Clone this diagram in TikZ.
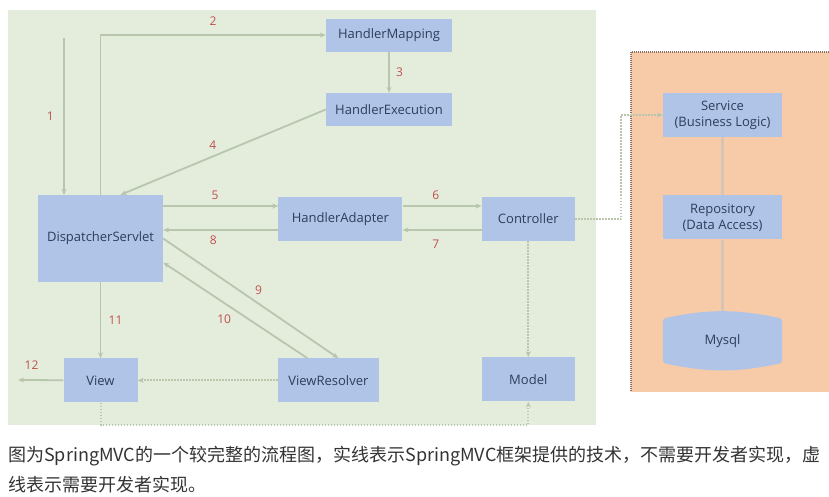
\documentclass[tikz,border=0pt]{standalone}
\usepackage{fontspec}
\setmainfont{Open Sans}
\newfontfamily\cjk{Noto Sans CJK SC}
\usepackage{tikz}
\usetikzlibrary{arrows.meta, positioning, backgrounds, calc}

\definecolor{bggreen}{RGB}{228,237,220}
\definecolor{bgorange}{RGB}{247,203,168}
\definecolor{boxblue}{RGB}{175,196,230}
\definecolor{boxtext}{RGB}{46,61,92}
\definecolor{linegray}{RGB}{184,198,174}
\definecolor{linktan}{RGB}{216,196,182}
\definecolor{borderbrown}{RGB}{140,110,100}
\definecolor{numred}{RGB}{192,80,77}
\definecolor{captiongray}{RGB}{51,51,51}

\begin{document}
\begin{tikzpicture}[
    x=1pt, y=-1pt,
    every node/.style={font=\fontsize{13}{16}\selectfont},
    box/.style={fill=boxblue, text=boxtext, minimum height=44pt, inner sep=0pt},
    num/.style={text=numred, font=\fontsize{12}{14}\selectfont},
    arrow/.style={-{Stealth[length=6pt, width=5pt]}, draw=linegray, line width=1.8pt},
    dottedarrow/.style={arrow, line width=2pt, dash pattern=on 1.5pt off 1.5pt},
    link/.style={draw=linktan, line width=3pt}
]
\useasboundingbox (0,0) rectangle (829,497);

% Nodes
\node[box, minimum width=125pt, minimum height=87pt] (dispatcher) at (100.5,238.5) {DispatcherServlet};
\node[box, minimum width=124pt, below right=2pt and 115pt of dispatcher.north east] (adapter) {HandlerAdapter};
\node[box, minimum width=93pt, right=79pt of adapter] (controller) {Controller};
\node[box, minimum width=93pt, below=116pt of controller] (model) {Model};
\node[box, minimum width=74pt, below=76pt of dispatcher] (view) {View};
\node[box, minimum width=101pt, right=140pt of view] (resolver) {ViewResolver};
\node[box, minimum width=126pt, minimum height=33pt] (execution) at (389,109.5) {HandlerExecution};
\node[box, minimum width=126pt, minimum height=33pt, above=41pt of execution] (mapping) {HandlerMapping};

\node[box, minimum width=119pt, align=center] (service) at (722.5,115) {Service\\(Business Logic)};
\node[box, minimum width=119pt, align=center, below=58pt of service] (repository) {Repository\\(Data Access)};
\node[minimum width=119pt, minimum height=60pt, inner sep=0pt, text=boxtext, below=71pt of repository] (mysql) {Mysql};

\coordinate (request) at (64,38);
\coordinate (response) at (18,380);

% Backgrounds
\begin{scope}[on background layer]
\fill[bggreen] (8,10) rectangle (596,425);
\fill[bgorange] (631,52) rectangle (829,392);
\draw[borderbrown, line width=1.2pt, dash pattern=on 1pt off 1pt] (829,52) -- (631,52) -- (631,392);
\fill[boxblue, rounded corners=3pt] ($(mysql.north west)+(0pt,-8pt)$) to[bend left=12] ($(mysql.north east)+(0pt,-8pt)$)
    -- ($(mysql.south east)+(0pt,8pt)$) to[bend left=12] ($(mysql.south west)+(0pt,8pt)$) -- cycle;
\end{scope}

% Arrows
\draw[arrow] (request) -- node[num, left=6pt] {1} (request |- dispatcher.north);
\draw[arrow] (dispatcher.north) |- node[num, pos=0.75, above=5pt] {2} (mapping.west);
\draw[arrow] (mapping) -- node[num, right=3pt] {3} (execution);
\draw[arrow] (execution.west) -- node[num, pos=0.55, above=3pt] {4} ([xshift=20pt]dispatcher.north);
\draw[arrow] ([yshift=13pt]dispatcher.east |- adapter.west) -- node[num, pos=0.45, above=2pt] {5} ([yshift=13pt]adapter.west);
\draw[arrow] ([yshift=-11pt]adapter.west) -- node[num, pos=0.565, below=2pt] {8} ([yshift=-11pt]dispatcher.east |- adapter.west);
\draw[arrow] ([yshift=13pt]adapter.east) -- node[num, pos=0.42, above=2pt] {6} ([yshift=13pt]controller.west);
\draw[arrow] ([yshift=-11pt]controller.west) -- node[num, pos=0.58, below=6pt] {7} ([yshift=-11pt]adapter.east);
\draw[arrow] (dispatcher.east) -- node[num, above right=0pt] {9} ([xshift=10pt]resolver.north);
\draw[arrow] ([xshift=-21pt]resolver.north) -- node[num, below left=0pt] {10} ([yshift=-24pt]dispatcher.east);
\draw[arrow] (dispatcher) -- node[num, right=4pt] {11} (view);
\draw[arrow] (view) -- node[num, pos=0.7, above=6pt] {12} (response);

\draw[dottedarrow] (resolver) -- (view);
\draw[dottedarrow] (controller) -- (model);
\draw[dottedarrow] (view.south) -- ++(0pt,-22pt) -| (model.south);
\draw[dottedarrow] (controller.east) -- ++(46pt,0pt) |- (service.west);

\draw[link] (service) -- (repository);
\draw[link] (repository) -- (mysql);

% Caption
\node[anchor=north west, align=left, inner sep=0pt, text=captiongray, font=\cjk\fontsize{18}{30}\selectfont] (caption) at (8,446)
    {图为SpringMVC的一个较完整的流程图，实线表示SpringMVC框架提供的技术，不需要开发者实现，虚\\线表示需要开发者实现。};

\end{tikzpicture}
\end{document}
